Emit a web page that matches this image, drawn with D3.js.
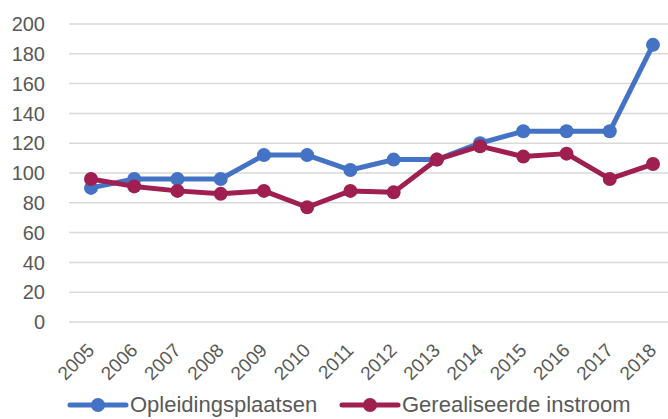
<!DOCTYPE html>
<html>
<head>
<meta charset="utf-8">
<script src="https://cdn.jsdelivr.net/npm/d3@7"></script>
<style>
  body { margin: 0; background: #fff; }
  text { font-family: "Liberation Sans", Arial, sans-serif; fill: #595959; }
</style>
</head>
<body>
<svg id="chart" width="668" height="419"></svg>
<script>
const years = ["2005", "2006", "2007", "2008", "2009", "2010", "2011", "2012", "2013", "2014", "2015", "2016", "2017", "2018"];
const opleidingsplaatsen = [90, 96, 96, 96, 112, 112, 102, 109, 109, 120, 128, 128, 128, 186];
const instroom = [96, 91, 88, 86, 88, 77, 88, 87, 109, 118, 111, 113, 96, 106];
const yTicks = [0, 20, 40, 60, 80, 100, 120, 140, 160, 180, 200];
const seriesNames = ["Opleidingsplaatsen", "Gerealiseerde instroom"];
const colors = ["#4472C4", "#9E1F50"];

const svg = d3.select("#chart");

// plot area runs a little past the right edge, like the original
const x = d3.scalePoint()
    .domain(years)
    .range([91, 653]);

const y = d3.scaleLinear()
    .domain([0, 200])
    .range([322, 24]);

// gridlines
svg.append("g")
    .selectAll("line")
    .data(yTicks)
    .enter().append("line")
    .attr("x1", 69)
    .attr("x2", 668)
    .attr("y1", d => y(d))
    .attr("y2", d => y(d))
    .attr("stroke", "#d9d9d9")
    .attr("stroke-width", 1.5);

// y labels
svg.append("g")
    .selectAll("text")
    .data(yTicks)
    .enter().append("text")
    .attr("x", 45)
    .attr("y", d => y(d))
    .attr("dy", "0.36em")
    .attr("text-anchor", "end")
    .style("font-size", "20px")
    .text(d => d);

// x labels, rotated
svg.append("g")
    .selectAll("text")
    .data(years)
    .enter().append("text")
    .attr("transform", d => `translate(${x(d) - 5},${342}) rotate(-45)`)
    .attr("dy", "0.7em")
    .attr("text-anchor", "end")
    .style("font-size", "19px")
    .text(d => d);

const series = [opleidingsplaatsen, instroom];
const line = d3.line()
    .x((d, i) => x(years[i]))
    .y(d => y(d));

series.forEach((vals, s) => {
    svg.append("path")
        .datum(vals)
        .attr("d", line)
        .attr("fill", "none")
        .attr("stroke", colors[s])
        .attr("stroke-width", 5)
        .attr("stroke-linejoin", "round");

    svg.append("g")
        .selectAll("circle")
        .data(vals)
        .enter().append("circle")
        .attr("cx", (d, i) => x(years[i]))
        .attr("cy", d => y(d))
        .attr("r", 7)
        .attr("fill", colors[s]);
});

// legend
const legendX = [70, 342];
const legend = svg.append("g")
    .selectAll("g")
    .data(seriesNames)
    .enter().append("g")
    .attr("transform", (d, i) => `translate(${legendX[i]},405)`);

legend.append("line")
    .attr("x1", 0)
    .attr("x2", 56)
    .attr("stroke", (d, i) => colors[i])
    .attr("stroke-width", 5)
    .attr("stroke-linecap", "round");

legend.append("circle")
    .attr("cx", 28)
    .attr("r", 7)
    .attr("fill", (d, i) => colors[i]);

legend.append("text")
    .attr("x", 60)
    .attr("dy", "0.34em")
    .style("font-size", "22px")
    .text(d => d);
</script>
</body>
</html>
